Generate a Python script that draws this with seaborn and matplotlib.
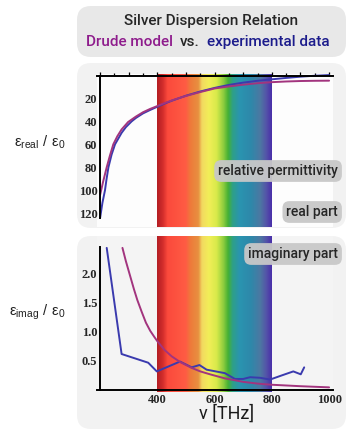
import numpy as np
import matplotlib
matplotlib.use('Agg')
import matplotlib.pyplot as plt
import seaborn as sns
from matplotlib.colors import LinearSegmentedColormap
from matplotlib.patches import FancyBboxPatch
from matplotlib.ticker import MultipleLocator

# real part, plotted as -eps_real / eps_0
nu_real_drude = [200, 210, 223, 234, 246, 260, 275, 298, 325, 350, 375, 400, 425, 450, 475, 500,
                 550, 600, 650, 700, 750, 800, 850, 900, 950, 1000]
eps_real_drude = [104, 93, 80, 70, 60, 53, 47, 40.5, 35.8, 32.0, 29.1, 26.6, 24.1, 21.8, 19.7, 17.8,
                  14.4, 11.3, 9.5, 8.0, 6.7, 5.8, 5.2, 4.8, 4.6, 4.5]
nu_real_exp = [200, 208, 217, 222, 229, 240, 252, 275, 290, 310, 325, 350, 375, 400, 425, 450, 475,
               500, 550, 600, 650, 700, 750, 800, 850, 900, 950, 1000]
eps_real_exp = [124, 111, 100, 91, 80, 69, 60, 50, 45, 40, 37, 33, 30, 27.2, 24.5, 22, 19.8,
                17.6, 13.9, 10.8, 8.2, 6.2, 4.6, 3.3, 2.1, 1.0, 0.2, -0.4]

# imaginary part
nu_imag_drude = [278, 290, 304, 318, 330, 345, 360, 375, 390, 400, 425, 450, 480, 520, 550, 584,
                 636, 700, 750, 800, 900, 1000]
eps_imag_drude = [2.45, 2.22, 1.98, 1.74, 1.55, 1.35, 1.16, 1.02, 0.91, 0.84, 0.69, 0.58, 0.48,
                  0.38, 0.32, 0.27, 0.2, 0.14, 0.11, 0.09, 0.065, 0.045]
nu_imag_exp = [223, 275, 368, 398, 479, 520, 547, 572, 636, 671, 700, 724, 759, 794, 834, 875, 901, 913]
eps_imag_exp = [2.45, 0.62, 0.47, 0.32, 0.49, 0.39, 0.43, 0.35, 0.29, 0.19, 0.19, 0.22, 0.21, 0.18,
                0.25, 0.32, 0.27, 0.39]

x_ticks = [400, 600, 800, 1000]

drude_col = '#a2347e'
exp_col = '#3a3aae'

sns.set_theme(style='white')
plt.rcParams['font.family'] = ['Roboto', 'DejaVu Sans']

fig = plt.figure(figsize=(3.5, 4.33), dpi=100)

# rounded grey panels
def panel(x, y, w, h, fc):
    p = FancyBboxPatch((x / 100, (433 - y - h) / 100), w / 100, h / 100,
                       boxstyle='round,pad=0,rounding_size=0.14',
                       fc=fc, ec='none', transform=fig.dpi_scale_trans, zorder=-10)
    fig.patches.append(p)

panel(77, 6, 269, 51, '#e8e8e8')
panel(77, 63, 269, 165, '#f2f2f2')
panel(77, 236, 269, 193, '#f2f2f2')

rainbow = LinearSegmentedColormap.from_list('rainbow_vis', [
    (0.00, '#b41e24'), (0.05, '#d42e2c'), (0.09, '#fb4a3c'), (0.25, '#ff5c44'),
    (0.29, '#ee7a3a'), (0.36, '#e89040'), (0.39, '#f2d860'), (0.45, '#f2ee58'),
    (0.52, '#d8ea4a'), (0.58, '#8ccc3e'), (0.62, '#44b034'), (0.66, '#2ea088'),
    (0.72, '#2a94b0'), (0.82, '#2e88aa'), (0.90, '#4c78a2'), (0.95, '#5456a8'),
    (1.00, '#4a30aa')])
grad = np.linspace(0, 1, 400).reshape(1, -1)

left, width = 96.7 / 350, (333.1 - 96.7) / 350
ax1 = fig.add_axes([left, (433 - 227) / 433, width, (227 - 73.8) / 433], facecolor='#fdfdfd')
ax2 = fig.add_axes([left, (433 - 392) / 433, width, (392 - 236) / 433], facecolor='#f4f4f4')

tick_font = dict(family='Liberation Serif', weight='bold', size=9)

for ax, ylim in [(ax1, (132.1, -1.5)), (ax2, (-0.035, 2.655))]:
    ax.imshow(grad, cmap=rainbow, aspect='auto', extent=(400, 800, ylim[0], ylim[1]),
              zorder=0, interpolation='bilinear')
    ax.set_xlim(188, 1014)
    ax.set_ylim(*ylim)
    for s in ax.spines.values():
        s.set_linewidth(1.4)
        s.set_color('black')
    ax.spines['right'].set_visible(False)
    ax.spines['left'].set_position(('data', 200))
    ax.xaxis.set_minor_locator(MultipleLocator(50))
    ax.tick_params(which='both', color='black', width=0.9)

# top panel: real part
sns.lineplot(x=nu_real_exp, y=eps_real_exp, ax=ax1, color=exp_col, lw=1.4, estimator=None)
sns.lineplot(x=nu_real_drude, y=eps_real_drude, ax=ax1, color=drude_col, lw=1.4, estimator=None)
ax1.spines['bottom'].set_visible(False)
ax1.spines['top'].set_position(('data', 0))
ax1.spines['left'].set_bounds(0, 124)
ax1.xaxis.tick_top()
ax1.xaxis.set_major_locator(MultipleLocator(100))
ax1.tick_params(axis='x', which='major', direction='out', length=3, labeltop=False)
ax1.tick_params(axis='x', which='minor', direction='out', length=2)
ax1.set_yticks([20, 40, 60, 80, 100, 120])
ax1.yaxis.set_minor_locator(MultipleLocator(5))
ax1.tick_params(axis='y', which='major', direction='in', length=4, pad=2)
ax1.tick_params(axis='y', which='minor', direction='in', length=2)

# bottom panel: imaginary part
sns.lineplot(x=nu_imag_exp, y=eps_imag_exp, ax=ax2, color=exp_col, lw=1.4, estimator=None, sort=False)
sns.lineplot(x=nu_imag_drude, y=eps_imag_drude, ax=ax2, color=drude_col, lw=1.4, estimator=None)
ax2.spines['top'].set_visible(False)
ax2.spines['bottom'].set_position(('data', 0))
ax2.spines['left'].set_bounds(0, 2.47)
ax2.set_xticks(x_ticks)
ax2.tick_params(axis='x', which='major', direction='in', length=4, pad=3)
ax2.tick_params(axis='x', which='minor', direction='in', length=2)
ax2.set_yticks([0.5, 1.0, 1.5, 2.0])
ax2.yaxis.set_minor_locator(MultipleLocator(0.1))
ax2.tick_params(axis='y', which='major', direction='in', length=4, pad=2)
ax2.tick_params(axis='y', which='minor', direction='in', length=2)

for ax in (ax1, ax2):
    ax.set_xlabel('')
    ax.set_ylabel('')
    for lab in ax.get_yticklabels() + ax.get_xticklabels():
        lab.set_fontproperties(tick_font)

def px(x, y):
    return x / 350, 1 - y / 433

# title
head = dict(va='center', fontsize=11, fontweight='medium')
fig.text(*px(211, 21), 'Silver Dispersion Relation', ha='center', color='#262626', **head)
fig.text(*px(173, 42), 'Drude model', ha='right', color='#8e1c8c', **head)
fig.text(*px(190, 42), 'vs.', ha='center', color='#262626', **head)
fig.text(*px(207, 42), 'experimental data', ha='left', color='#1c1c8c', **head)

# axis labels
fig.text(*px(40, 142), r'$\mathregular{ε_{real}\ /\ ε_0}$', ha='center', va='center',
         fontsize=10.5, family='Liberation Sans', color='#222222')
fig.text(*px(37, 312), r'$\mathregular{ε_{imag}\ /\ ε_0}$', ha='center', va='center',
         fontsize=10.5, family='Liberation Sans', color='#222222')
fig.text(*px(227, 414), 'ν [THz]', ha='center', va='center', fontsize=13, color='#1a1a1a')

# tag boxes
tag = dict(boxstyle='round,pad=0.28,rounding_size=0.5', fc='#c8c8c8', ec='none', alpha=0.95)
for ty, txt in [(171, 'relative permittivity'), (212, 'real part'), (254, 'imaginary part')]:
    fig.text(*px(338, ty), txt, ha='right', va='center', fontsize=10, fontweight='medium',
             color='#262626', bbox=tag)

fig.savefig('out.png', dpi=100)
